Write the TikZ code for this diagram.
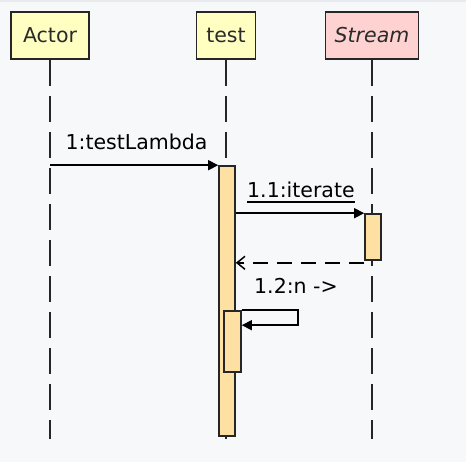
\documentclass[tikz,border=0pt]{standalone}
\usepackage{fontspec}
\setmainfont{DejaVu Sans}
\usetikzlibrary{arrows.meta,calc}
\definecolor{bg}{HTML}{F7F8FA}
\definecolor{topstrip}{HTML}{E9EAED}
\definecolor{boxyellow}{HTML}{FFFFC2}
\definecolor{boxpink}{HTML}{FFD2D2}
\definecolor{actfill}{HTML}{FFE0A3}
\definecolor{edge}{HTML}{262626}
\definecolor{txt}{HTML}{2A2A2A}
\tikzset{
  objbox/.style={draw=edge, line width=1.8pt, inner sep=0pt, minimum height=47pt, text=txt, font=\fontsize{20.5}{23}\selectfont},
  lifeline/.style={draw=edge, line width=2pt, dash pattern=on 26pt off 10pt},
  actbar/.style={draw=edge, fill=actfill, line width=1.6pt, inner sep=0pt, minimum width=16pt},
  msg/.style={draw=black, line width=1.5pt, -{Triangle[length=10pt,width=10pt]}},
  ret/.style={draw=black, line width=1.5pt, dash pattern=on 15pt off 9pt, -{Straight Barb[length=8pt,width=13pt,line width=1.5pt]}},
  lbl/.style={inner sep=0pt, text=black, font=\fontsize{20.5}{23}\selectfont},
}
\begin{document}
\begin{tikzpicture}[x=1pt,y=-1pt]
\fill[bg] (0,0) rectangle (466,462);
\fill[topstrip] (0,0) rectangle (466,2);
\useasboundingbox (0,0) rectangle (466,462);

\node[objbox, fill=boxyellow, minimum width=78pt] (actor) at (50,35.5) {Actor};
\node[objbox, fill=boxyellow, minimum width=59pt] (test) at (226,35.5) {test};
\node[objbox, fill=boxpink, minimum width=93pt] (stream) at (372,35.5) {\itshape Stream};

\coordinate (actorend) at (actor.south |- 0,439);
\coordinate (testend) at (test.south |- 0,439);
\coordinate (streamend) at (stream.south |- 0,439);
\draw[lifeline] (actor.south) -- (actorend);
\draw[lifeline] (test.south) -- (testend);
\draw[lifeline] (stream.south) -- (streamend);

\node[actbar, minimum height=270pt] (act) at (227,301) {};
\node[actbar, minimum height=46pt] (sact) at (373,237) {};
\node[actbar, minimum height=61pt, minimum width=17pt] (nest) at (232.5,341.5) {};

\draw[msg] (actor.south |- act.north) -- (act.north west);
\node[lbl, anchor=base] (l1) at (136.5,150) {1:testLambda};

\draw[msg] (act.east |- sact.north) -- (sact.north west);
\node[lbl, anchor=base west] (l11) at (247,198) {1.1:iterate};
\draw[black, line width=1.4pt] (l11.base west) ++(0,4) coordinate (u1) -- (l11.base east |- u1);

\draw[ret] ($(sact.south west)+(0,2)$) -- ($(act.east |- sact.south)+(0,2)$);

\coordinate (selfr) at ($(nest.north east)+(56,0)$);
\draw[msg] (nest.north east) -- (selfr) -- ++(0,15) -- ($(nest.north east)+(0,15)$);
\node[lbl, anchor=base west] (l12) at (254,294) {1.2:n ->};
\end{tikzpicture}
\end{document}
